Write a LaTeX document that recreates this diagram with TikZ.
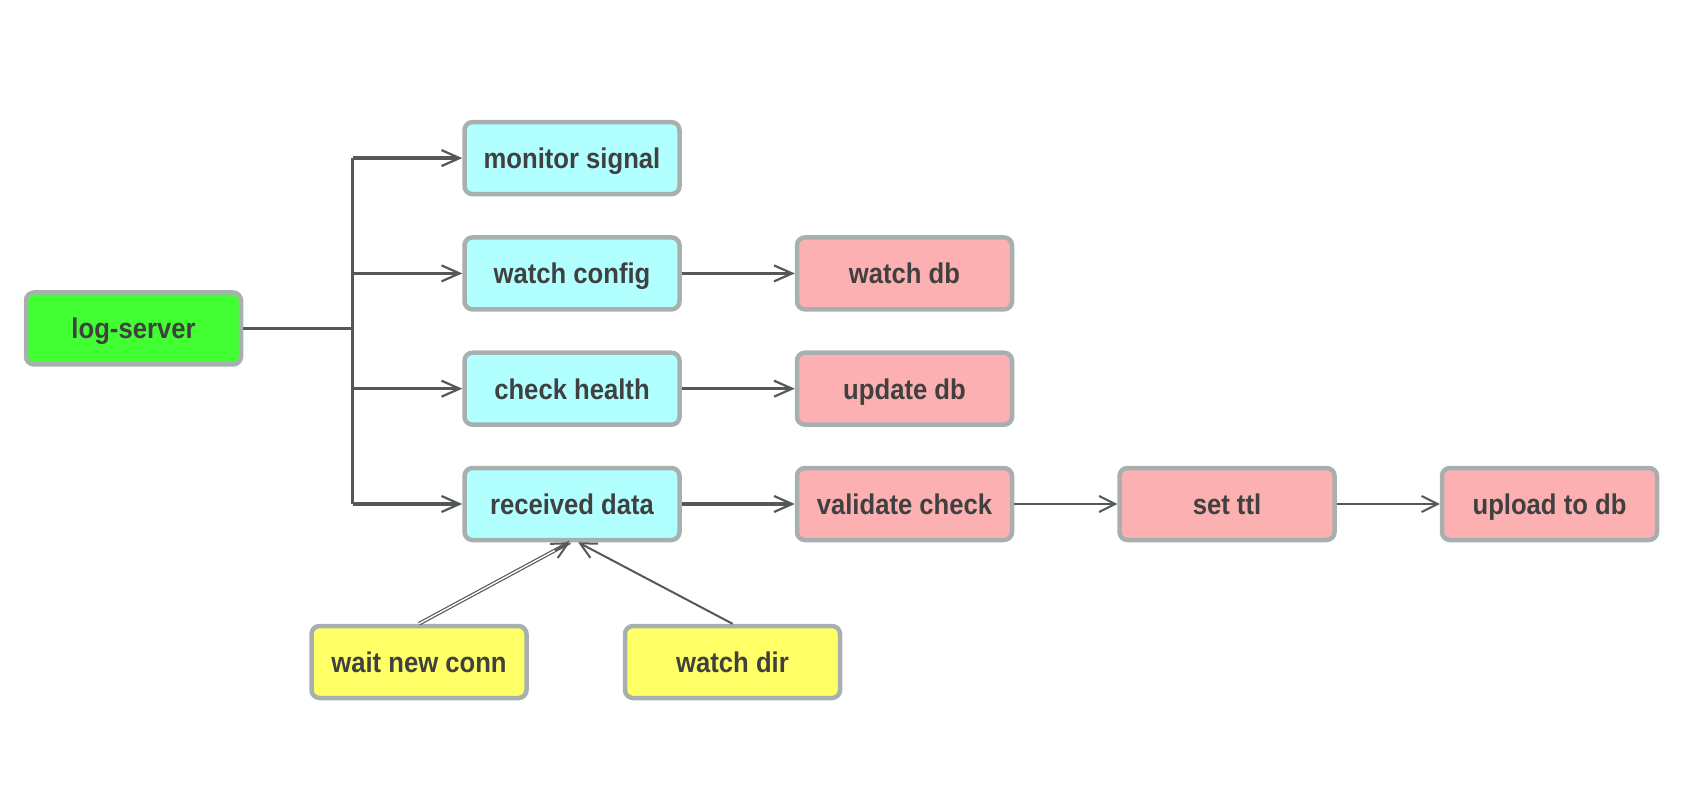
\documentclass[tikz,border=0pt]{standalone}
\usepackage{fontspec}
\setmainfont{Liberation Sans}[FakeStretch=0.9]
\usetikzlibrary{positioning,arrows.meta}

\definecolor{edgegray}{HTML}{A8AFAF}
\definecolor{wiregray}{HTML}{555858}
\definecolor{textgray}{HTML}{404040}
\definecolor{srvgreen}{HTML}{42FF33}
\definecolor{taskcyan}{HTML}{B2FFFF}
\definecolor{dbpink}{HTML}{FCB0B1}
\definecolor{srcyellow}{HTML}{FFFF66}

\tikzset{
  box/.style={draw=edgegray, line width=4.5pt, rounded corners=8pt,
    minimum width=215pt, minimum height=72pt, text=textgray,
    text height=22pt, text depth=1pt,
    font=\bfseries\fontsize{28.5}{32}\selectfont},
  srv/.style={box, fill=srvgreen},
  task/.style={box, fill=taskcyan},
  dbop/.style={box, fill=dbpink},
  src/.style={box, fill=srcyellow},
  barb/.tip={Straight Barb[length=18pt, width=16pt, line width=2.2pt]},
  thinbarb/.tip={Straight Barb[length=16pt, width=16pt, line width=2pt]},
  trunk/.style={draw=wiregray, line width=3.2pt},
  fork/.style={trunk, -barb},
  hop/.style={draw=wiregray, line width=3.4pt, -barb},
  thin/.style={draw=wiregray, line width=2pt, -thinbarb},
  twin/.style={draw=wiregray, line width=1.2pt, double=white,
    double distance=1.4pt},
}

\begin{document}
\begin{tikzpicture}[x=1pt, y=1pt, node distance=38.8pt]
  \useasboundingbox (0,0) rectangle (1696,796);

  % Define nodes
  \node[srv] (ls) at (133.5,467.5) {log-server};
  \node[task] (rd) at (572,292) {received data};
  \node[task, above=of rd] (ch) {check health};
  \node[task, above=of ch] (wc) {watch config};
  \node[task, above=of wc] (ms) {monitor signal};
  \node[dbop, right=113pt of wc] (wdb) {watch db};
  \node[dbop, right=113pt of ch] (udb) {update db};
  \node[dbop, right=113pt of rd] (vc) {validate check};
  \node[dbop, right=103pt of vc] (ttl) {set ttl};
  \node[dbop, right=103pt of ttl] (up) {upload to db};
  \node[src] (wn) at (419,134) {wait new conn};
  \node[src, right=94pt of wn] (wd) {watch dir};
  \coordinate (bus) at (352.7,0);
  \coordinate (rdin) at ([xshift=-2pt]rd.south);

  % Connect the nodes
  \draw[trunk] (ls.east) -- (ls.east -| bus);
  \draw[trunk] (ms.west -| bus) -- (rd.west -| bus);
  \foreach \t in {ms, wc, ch, rd}
    \draw[fork] (\t.west -| bus) -- (\t.west);
  \draw[hop] (wc) -- (wdb);
  \draw[hop] (ch) -- (udb);
  \draw[hop] (rd) -- (vc);
  \draw[thin] (vc) -- (ttl);
  \draw[thin] (ttl) -- (up);
  \draw[twin] (wn.north) -- (rdin) coordinate[pos=0.9] (tipfoot);
  \draw[thin] (tipfoot) -- (rdin);
  \draw[thin] (wd.north) -- ([xshift=6pt]rd.south);
\end{tikzpicture}
\end{document}
